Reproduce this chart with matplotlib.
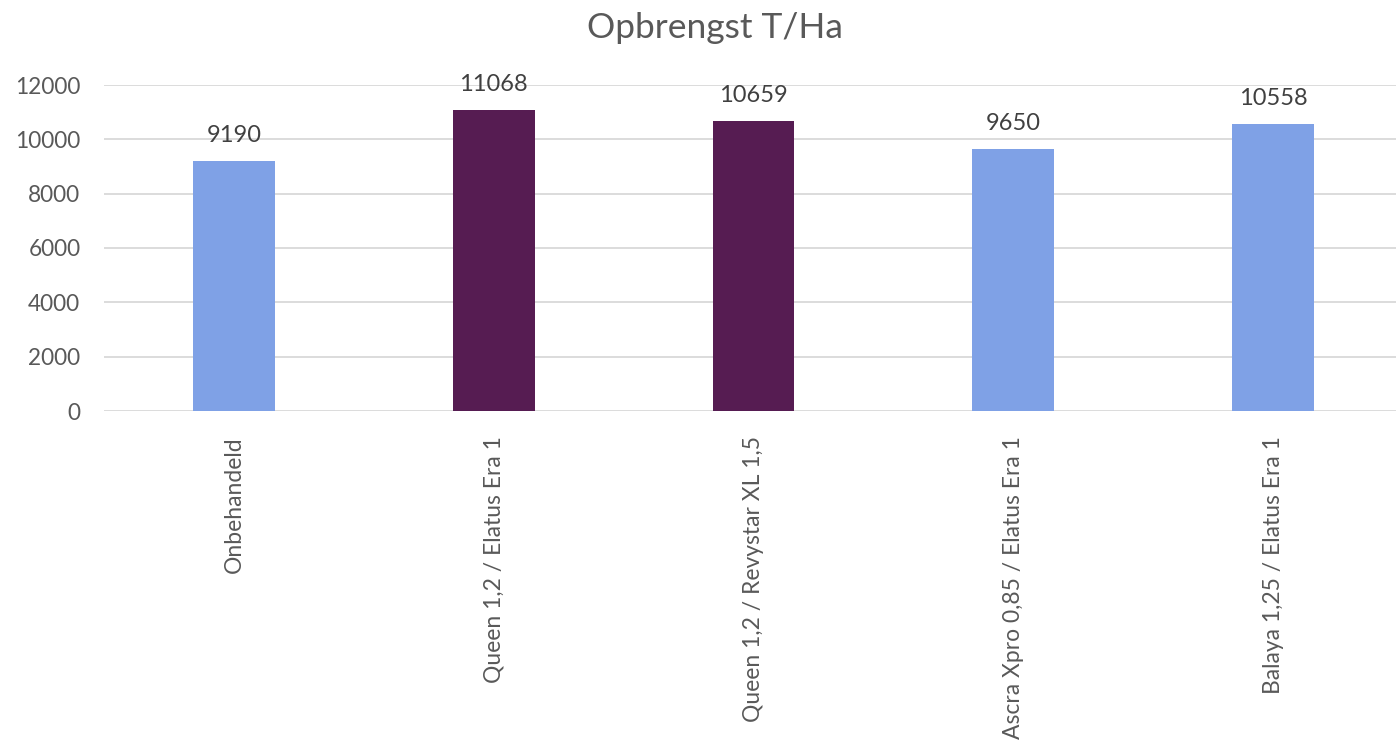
import matplotlib
matplotlib.use("Agg")
import matplotlib.pyplot as plt

categories = ["Onbehandeld", "Queen 1,2 / Elatus Era 1", "Queen 1,2 / Revystar XL 1,5",
              "Ascra Xpro 0,85 / Elatus Era 1", "Balaya 1,25 / Elatus Era 1"]
values = [9190, 11068, 10659, 9650, 10558]
bar_colors = ["#7FA1E6", "#561C52", "#561C52", "#7FA1E6", "#7FA1E6"]
yticks = [0, 2000, 4000, 6000, 8000, 10000, 12000]

plt.rcParams['font.family'] = ['Lato', 'DejaVu Sans']
text_color = "#595959"

fig = plt.figure(figsize=(13.96, 7.49), dpi=100)
ax = fig.add_axes([104/1396, 1 - 411/749, 1299/1396, (411 - 85)/749])

x = list(range(len(categories)))
bars = ax.bar(x, values, width=0.315, color=bar_colors, zorder=3)
for xi, v in zip(x, values):
    ax.text(xi, v + 550, str(v), ha="center", va="bottom", fontsize=17, color="#404040")

ax.set_xlim(-0.5, len(categories) - 0.5)
ax.set_ylim(0, 12000)
ax.set_yticks(yticks)
ax.set_yticklabels([str(t) for t in yticks], fontsize=16.3, color=text_color)
ax.set_xticks(x)
ax.set_xticklabels(categories, rotation=90, fontsize=16.5, color=text_color)
ax.tick_params(axis="both", length=0)
ax.tick_params(axis="y", pad=17)
ax.tick_params(axis="x", pad=18)
ax.grid(axis="y", color="#D9D9D9", linewidth=1.3, zorder=0)
for s in ax.spines.values():
    s.set_visible(False)

fig.text(715/1396, 1 - 28/749, "Opbrengst T/Ha", ha="center", va="center", fontsize=25.5, color=text_color)

fig.savefig("out.png", dpi=100)
